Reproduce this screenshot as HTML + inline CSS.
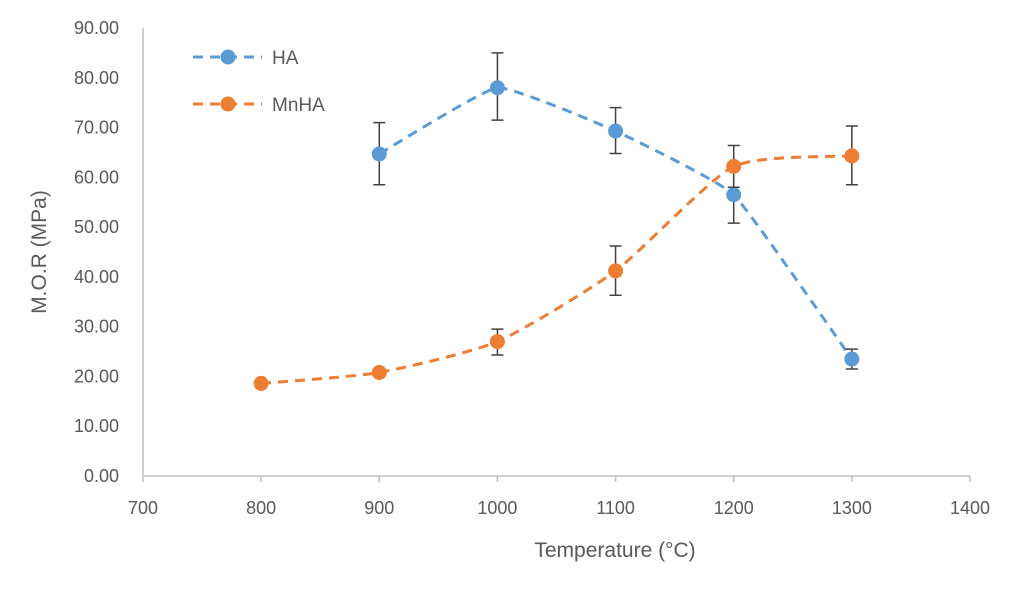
<!DOCTYPE html>
<html><head><meta charset="utf-8"><style>
html,body{margin:0;padding:0;background:#fff;}
svg{display:block;font-family:"Liberation Sans",sans-serif;}
</style></head><body>
<svg id="chart" width="1024" height="594">
<g id="axes"></g>
<g id="series"></g>
<g id="legend">
<line x1="193" y1="57" x2="262" y2="57" stroke="#5B9BD5" stroke-width="3" stroke-dasharray="10,7"/>
<circle cx="228" cy="57" r="7.5" fill="#5B9BD5"/>
<text x="272" y="64" font-size="19" fill="#595959">HA</text>
<line x1="193" y1="104" x2="262" y2="104" stroke="#ED7D31" stroke-width="3" stroke-dasharray="10,7"/>
<circle cx="228" cy="104" r="7.5" fill="#ED7D31"/>
<text x="272" y="111" font-size="19" fill="#595959">MnHA</text>
</g>
<text x="615" y="557" font-size="21" fill="#595959" text-anchor="middle">Temperature (°C)</text>
<text transform="translate(46,252) rotate(-90)" font-size="21" fill="#595959" text-anchor="middle">M.O.R (MPa)</text>
</svg>
<script>
const xTicks=[700,800,900,1000,1100,1200,1300,1400];
const yTicks=[0,10,20,30,40,50,60,70,80,90];
const haX=[900,1000,1100,1200,1300];
const haY=[64.7,78.0,69.3,56.5,23.5];
const haLo=[58.5,71.5,64.8,50.8,21.5];
const haHi=[71.0,85.0,74.0,62.0,25.5];
const mnX=[800,900,1000,1100,1200,1300];
const mnY=[18.6,20.8,27.0,41.2,62.2,64.3];
const mnLo=[18.6,20.8,24.3,36.3,58.0,58.5];
const mnHi=[18.6,20.8,29.5,46.2,66.4,70.3];
const NS="http://www.w3.org/2000/svg";
const sx=v=>143+(v-700)*(970-143)/700;
const sy=v=>476-v*(476-28)/90;
function mk(t,a,p){const e=document.createElementNS(NS,t);for(const k in a)e.setAttribute(k,a[k]);p.appendChild(e);return e;}
const ax=document.getElementById('axes');
let l=mk('line',{x1:143,y1:476,x2:970,y2:476,stroke:'#BFBFBF','stroke-width':1.5},ax);


l=mk('line',{x1:143,y1:28,x2:143,y2:476,stroke:'#BFBFBF','stroke-width':1.5},ax);


xTicks.forEach(v=>{const tk=mk('line',{x1:sx(v),y1:476,x2:sx(v),y2:482,stroke:'#BFBFBF','stroke-width':1.5},ax);


const t=mk('text',{x:sx(v),y:514,'font-size':18,fill:'#595959','text-anchor':'middle'},ax);t.textContent=v;

});
yTicks.forEach(v=>{
const t=mk('text',{x:119,y:sy(v)+6,'font-size':18,fill:'#595959','text-anchor':'end'},ax);t.textContent=v.toFixed(2);

});
function smooth(xs,ys,k){const p=xs.map((x,i)=>[sx(x),sy(ys[i])]);let d='M'+p[0][0]+','+p[0][1];
for(let i=0;i<p.length-1;i++){const p0=p[i-1]||p[i],p1=p[i],p2=p[i+1],p3=p[i+2]||p[i+1];
const c1=[p1[0]+(p2[0]-p0[0])*k,p1[1]+(p2[1]-p0[1])*k],c2=[p2[0]-(p3[0]-p1[0])*k,p2[1]-(p3[1]-p1[1])*k];
d+=' C'+c1+' '+c2+' '+p2;}return d;}
const sg=document.getElementById('series');
function draw(xs,ys,lo,hi,col,name,k){
const g=mk('g',{},sg);


const path=mk('path',{d:smooth(xs,ys,k),fill:'none',stroke:col,'stroke-width':3,'stroke-dasharray':'10,7'},g);


xs.forEach((x,i)=>{if(hi[i]-lo[i]>0.5){const X=sx(x);
const eb=mk('path',{d:`M${X},${sy(lo[i])}V${sy(hi[i])}M${X-6},${sy(lo[i])}H${X+6}M${X-6},${sy(hi[i])}H${X+6}`,stroke:'#404040','stroke-width':1.5,fill:'none'},g);

}});
xs.forEach((x,i)=>{const c=mk('circle',{cx:sx(x),cy:sy(ys[i]),r:7.5,fill:col},g);

});
}
draw(haX,haY,haLo,haHi,'#5B9BD5','ha',0.06);
draw(mnX,mnY,mnLo,mnHi,'#ED7D31','mnha',0.1);
</script>
</body></html>
